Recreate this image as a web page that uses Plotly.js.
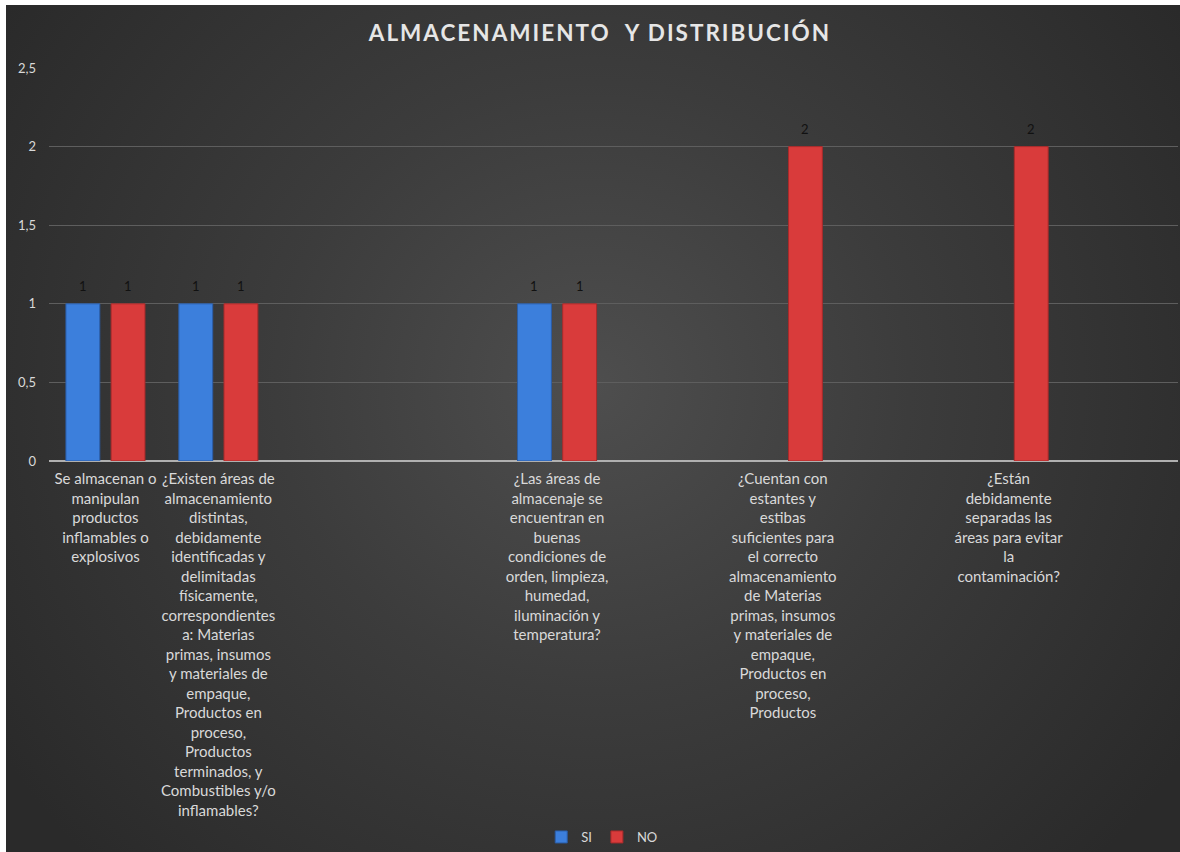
<!DOCTYPE html>
<html>
<head>
<meta charset="utf-8">
<script src="https://cdn.plot.ly/plotly-3.0.1.min.js"></script>
<style>
  html, body { margin: 0; padding: 0; background: #ffffff; }
  #wrap { position: relative; width: 1180px; height: 852px; overflow: hidden; }
  #bg { position: absolute; left: 6px; top: 5px; width: 1174px; height: 847px;
        background: radial-gradient(ellipse 60% 80% at 50% 45%, #4e4e4e 0%, #3c3c3c 45%, #2a2a2a 100%); }
  #chart { position: absolute; left: 0; top: 0; width: 1180px; height: 852px; }
  #chart .gtitle { letter-spacing: 2px; }
</style>
</head>
<body>
<div id="wrap">
  <div id="bg"></div>
  <div id="chart"></div>
</div>
<script>
// ---- data ----
const categories = [
  "Se almacenan o<br>manipulan<br>productos<br>inflamables o<br>explosivos",
  "¿Existen áreas de<br>almacenamiento<br>distintas,<br>debidamente<br>identificadas y<br>delimitadas<br>físicamente,<br>correspondientes<br>a: Materias<br>primas, insumos<br>y materiales de<br>empaque,<br>Productos en<br>proceso,<br>Productos<br>terminados, y<br>Combustibles y/o<br>inflamables?",
  "",
  "",
  "¿Las áreas de<br>almacenaje se<br>encuentran en<br>buenas<br>condiciones de<br>orden, limpieza,<br>humedad,<br>iluminación y<br>temperatura?",
  "",
  "¿Cuentan con<br>estantes y<br>estibas<br>suficientes para<br>el correcto<br>almacenamiento<br>de Materias<br>primas, insumos<br>y materiales de<br>empaque,<br>Productos en<br>proceso,<br>Productos",
  "",
  "¿Están<br>debidamente<br>separadas las<br>áreas para evitar<br>la<br>contaminación?",
  ""
];
const siValues = [1, 1, null, null, 1, null, null, null, null, null];
const noValues = [1, 1, null, null, 1, null, 2, null, 2, null];
const yTickValues = [0, 0.5, 1, 1.5, 2, 2.5];
const seriesNames = ["SI", "NO"];

const xIdx = categories.map((_, i) => i);
const font = "Lato, 'Open Sans', sans-serif";
const bargap = 0.2;
const halfSlot = (1 - bargap) / 4;

const traces = [
  {
    type: "bar", name: seriesNames[0], x: xIdx, y: siValues,
    marker: { color: "#3c7fdc", line: { color: "#2a5da8", width: 1 } },
    hoverinfo: "y"
  },
  {
    type: "bar", name: seriesNames[1], x: xIdx, y: noValues,
    marker: { color: "#d93b3b", line: { color: "#a82a2a", width: 1 } },
    hoverinfo: "y"
  }
];

// data labels drawn from the series values
const annotations = [];
[[siValues, -halfSlot], [noValues, halfSlot]].forEach(([vals, off]) => {
  vals.forEach((v, i) => {
    if (v == null) return;
    annotations.push({
      x: i + off, y: v, xref: "x", yref: "y",
      text: String(v), showarrow: false, yshift: 18,
      font: { family: font, size: 13, color: "#111111" }
    });
  });
});

const layout = {
  width: 1180, height: 852,
  paper_bgcolor: "rgba(0,0,0,0)",
  plot_bgcolor: "rgba(0,0,0,0)",
  margin: { l: 49, r: 2, t: 68, b: 391 },
  separators: ",.",
  font: { family: font, color: "#d9d9d9", size: 12 },
  title: {
    text: "<b>ALMACENAMIENTO  Y DISTRIBUCIÓN</b>",
    font: { family: font, size: 22.5, color: "#e6e6e6" },
    xref: "paper", x: 0.488, xanchor: "center",
    yref: "container", y: 1 - 33 / 852, yanchor: "middle"
  },
  barmode: "group",
  bargap: bargap,
  bargroupgap: 0.25,
  annotations: annotations,
  xaxis: {
    type: "linear",
    range: [-0.5, categories.length - 0.5],
    tickmode: "array",
    tickvals: xIdx,
    ticktext: categories,
    tickangle: 0,
    ticks: "",
    ticklabelstandoff: 7,
    showgrid: false,
    zeroline: false,
    showline: false,
    tickfont: { family: font, size: 15, color: "#d9d9d9" },
    automargin: false
  },
  yaxis: {
    range: [0, 2.5],
    tickmode: "array",
    tickvals: yTickValues,
    ticktext: yTickValues.map(v => String(v).replace(".", ",")),
    showgrid: true,
    gridcolor: "#5e5e5e",
    gridwidth: 1,
    zeroline: true,
    zerolinecolor: "#b0b0b0",
    zerolinewidth: 2,
    showline: false,
    ticks: "",
    ticklabelstandoff: 12,
    tickfont: { family: font, size: 13, color: "#d9d9d9" },
    automargin: false
  },
  showlegend: true,
  legend: {
    orientation: "h",
    x: 0.49, xanchor: "center",
    yref: "container", y: -6 / 852, yanchor: "bottom",
    font: { family: font, size: 13, color: "#d9d9d9" },
    bgcolor: "rgba(0,0,0,0)",
    itemwidth: 30,
    tracegroupgap: 0
  }
};

Plotly.newPlot("chart", traces, layout, { displayModeBar: false, staticPlot: true });
</script>
</body>
</html>
